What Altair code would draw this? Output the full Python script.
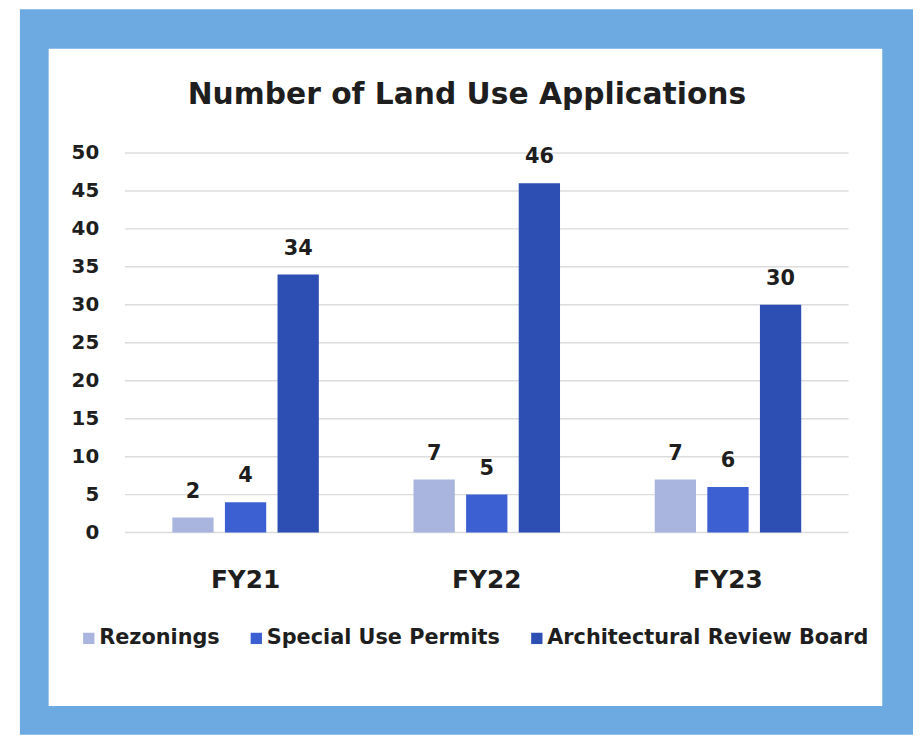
import altair as alt
import pandas as pd

# ---- data ----
title_text = "Number of Land Use Applications"
years = ["FY21", "FY22", "FY23"]
series = ["Rezonings", "Special Use Permits", "Architectural Review Board"]
rezonings = [2, 7, 7]
special_use_permits = [4, 5, 6]
architectural_review_board = [34, 46, 30]
y_ticks = [0, 5, 10, 15, 20, 25, 30, 35, 40, 45, 50]
colors = ["#A9B5DF", "#3C60D2", "#2D4FB3"]

rows = []
for i, yr in enumerate(years):
    for s, vals in zip(series, [rezonings, special_use_permits, architectural_review_board]):
        rows.append({"year": yr, "series": s, "value": vals[i]})
df = pd.DataFrame(rows)
grid_df = pd.DataFrame({"tick": y_ticks})
one_df = pd.DataFrame({"k": [0]})

FONT = "DejaVu Sans"
TXT = "#1E1E1E"
W, H = 730, 383
PL, PT = 118, 143          # canvas offset of plot area (page = canvas + 8)
CW, CH = 913, 730          # canvas size


def px(page_x):
    return page_x - 8 - PL


def py(page_y):
    return page_y - 8 - PT


y_scale = alt.Scale(domain=[0, 50], nice=False, zero=True)
x_axis = alt.Axis(title=None, labelFont=FONT, labelFontSize=25, labelFontWeight="bold",
                  labelColor=TXT, labelPadding=35, labelAngle=0, domain=False,
                  ticks=False, tickSize=0, grid=False, zindex=1)

# decorative frame (blue border, white card)
blue = alt.Chart(one_df).mark_rect(color="#6DAAE1").encode(
    x=alt.value(px(20)), x2=alt.value(px(921)),
    y=alt.value(py(6)), y2=alt.value(py(738)))
white = alt.Chart(one_df).mark_rect(color="white").encode(
    x=alt.value(px(49)), x2=alt.value(px(890)),
    y=alt.value(py(46)), y2=alt.value(py(709)))

# y gridlines and y tick labels (from the tick list, on the shared y scale)
grid = alt.Chart(grid_df).mark_rule(color="#DCDCDC", strokeWidth=1.5).encode(
    y=alt.Y("tick:Q", scale=y_scale, axis=None))
ylabels = alt.Chart(grid_df).mark_text(font=FONT, fontSize=20, fontWeight="bold", align="right",
                                       baseline="middle", color=TXT).encode(
    x=alt.value(-26),
    y=alt.Y("tick:Q", scale=y_scale, axis=None),
    text=alt.Text("tick:Q"))

bars = alt.Chart(df).mark_bar().encode(
    x=alt.X("year:N", sort=years, scale=alt.Scale(paddingInner=0, paddingOuter=0), axis=x_axis),
    xOffset=alt.XOffset("series:N", sort=series,
                        scale=alt.Scale(domain=series, paddingInner=0.215, paddingOuter=0.9)),
    y=alt.Y("value:Q", scale=y_scale, axis=None),
    color=alt.Color("series:N", sort=series, scale=alt.Scale(domain=series, range=colors),
                    legend=alt.Legend(title=None, orient="none", legendX=px(79),
                                      legendY=py(630),
                                      direction="horizontal", symbolType="square",
                                      symbolSize=130, symbolStrokeWidth=0,
                                      labelFont=FONT, labelFontSize=21, labelFontWeight="bold",
                                      labelColor=TXT, labelOffset=0, columnPadding=26,
                                      labelLimit=600, padding=0, zindex=1)),
)

labels = alt.Chart(df).mark_text(font=FONT, fontSize=21, fontWeight="bold", baseline="alphabetic",
                                 dy=-20, color=TXT).encode(
    x=alt.X("year:N", sort=years),
    xOffset=alt.XOffset("series:N", sort=series),
    y=alt.Y("value:Q", scale=y_scale),
    text=alt.Text("value:Q"),
)

title = alt.Chart(one_df).mark_text(font=FONT, fontSize=30, fontWeight="bold", align="center",
                                    baseline="alphabetic", color=TXT).encode(
    x=alt.value(px(471)), y=alt.value(py(102)), text=alt.value(title_text))

chart = alt.layer(blue, white, grid, ylabels, bars, labels, title).properties(
    width=W, height=H,
    autosize=alt.AutoSizeParams(type="none"),
    padding={"left": PL, "top": PT, "right": CW - PL - W, "bottom": CH - PT - H},
).configure(background="white").configure_view(stroke=None)

chart.save("out.html", embed_options={"renderer": "svg", "actions": False})
